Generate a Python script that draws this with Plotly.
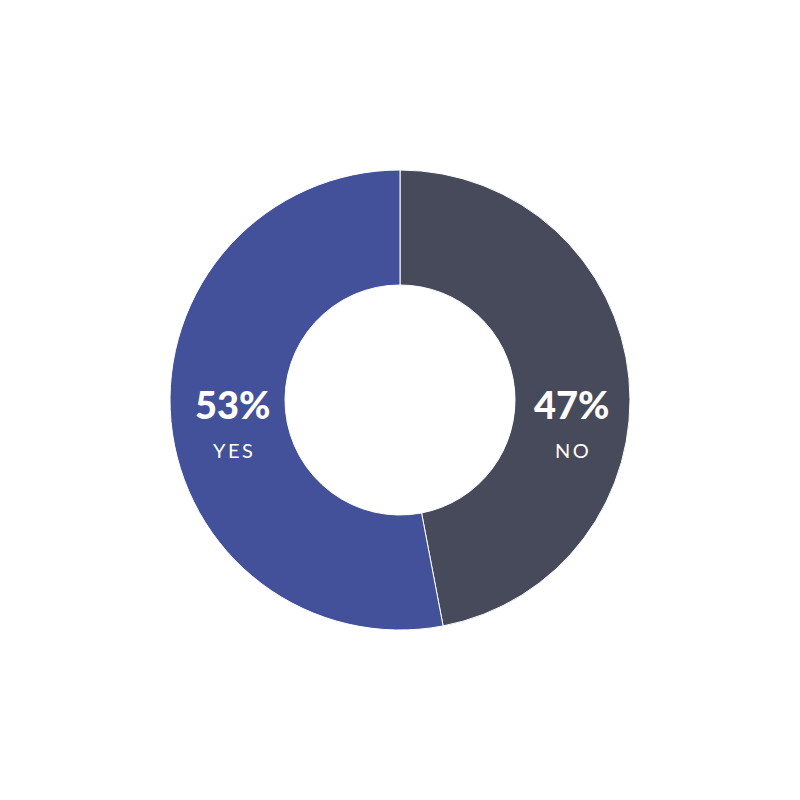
import plotly.graph_objects as go

labels = ["NO", "YES"]
values = [47, 53]
colors = ["#474a5a", "#43519a"]

# la página deja 8px de margen en el body: todo se desplaza 8px
OFF = 8

fig = go.Figure(go.Pie(
    labels=labels,
    values=values,
    hole=0.5,
    sort=False,
    direction="clockwise",
    rotation=0,
    marker=dict(colors=colors, line=dict(color="white", width=1)),
    textinfo="none",
    hoverinfo="label+percent",
    showlegend=False,
    domain=dict(x=[(170 - OFF) / 800, (630 - OFF) / 800],
                y=[(170 + OFF) / 800, (630 + OFF) / 800]),
))

# etiquetas dentro del anillo, a izquierda (YES) y derecha (NO)
label_x = {"NO": (572 - OFF) / 800, "YES": (233 - OFF) / 800}
total = sum(values)
for lab, val in zip(labels, values):
    fig.add_annotation(
        x=label_x[lab], y=1 - (404 - OFF) / 800, xref="paper", yref="paper",
        xanchor="center", yanchor="middle",
        text="%d%%" % round(100 * val / total),
        showarrow=False,
        font=dict(family="Lato", size=38, color="white", weight=900),
    )
    fig.add_annotation(
        x=label_x[lab], y=1 - (450 - OFF) / 800, xref="paper", yref="paper",
        xanchor="center", yanchor="middle",
        text="\u2009".join(lab),
        showarrow=False,
        font=dict(family="Lato", size=20, color="white"),
    )

fig.update_layout(
    width=800,
    height=800,
    margin=dict(l=0, r=0, t=0, b=0),
    paper_bgcolor="white",
    plot_bgcolor="white",
)

fig.write_html("out.html")
